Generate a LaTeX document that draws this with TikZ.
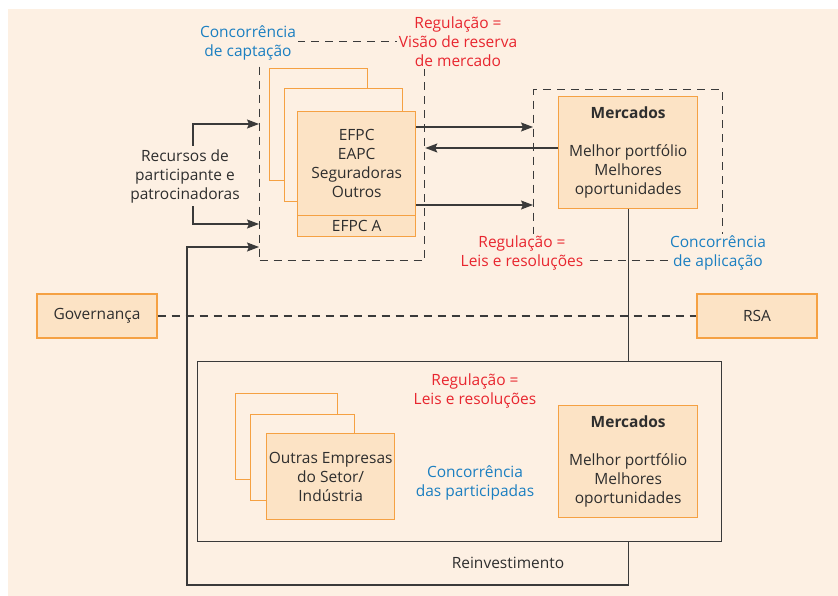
\documentclass[tikz,border=0pt]{standalone}
\usepackage{fontspec}
\setmainfont{Open Sans}
\usepackage{xcolor}
\usetikzlibrary{arrows.meta,positioning}

\definecolor{bgcream}{HTML}{FDF0E3}
\definecolor{orangeline}{HTML}{F5A143}
\definecolor{boxfill}{HTML}{FCE3C5}
\definecolor{redtxt}{HTML}{E8262F}
\definecolor{bluetxt}{HTML}{1B7FC1}
\definecolor{linegray}{HTML}{3A3A3A}
\definecolor{txtgray}{HTML}{2E2E2E}

\tikzset{
    every node/.style={font=\fontsize{15.5}{19}\selectfont, text=txtgray, align=center},
    backbox/.style={draw=orangeline, fill=bgcream, line width=1.4pt, anchor=north west},
    frontbox/.style={draw=orangeline, fill=boxfill, line width=1.4pt, anchor=north west, inner sep=0pt},
    dashbox/.style={draw=linegray, line width=1.3pt, dash pattern=on 8pt off 6pt, anchor=north west},
    lbl/.style={fill=bgcream, inner sep=2pt},
    arrow/.style={draw=linegray, line width=1.3pt, -{Stealth[length=12pt,width=9pt,inset=2pt]}},
    plain/.style={draw=linegray, line width=1.3pt}
}

\begin{document}
\begin{tikzpicture}[x=1pt, y=-1pt]
    % Background
    \useasboundingbox (0,0) rectangle (838,596);
    \fill[white] (0,0) rectangle (838,596);
    \fill[bgcream] (8,9) rectangle (838,596);

    % Dashed boxes
    \node[dashbox, minimum width=165, minimum height=219] (captacao) at (259,41) {};
    \node[dashbox, minimum width=189, minimum height=171] (aplicacao) at (533,89) {};

    % Governance line
    \node[frontbox, minimum width=120, minimum height=44, anchor=center] (gov) at (97,316) {Governança};
    \node[frontbox, minimum width=120, minimum height=44, anchor=center] (rsa) at (757,316) {RSA};
    \draw[draw=linegray, line width=1.3pt, dash pattern=on 8pt off 6pt] (gov.east) -- (rsa.west);

    % Stacked entities (top)
    \foreach \x/\y/\w/\h in {269/68/98/112, 284/88/118/113} {
        \node[backbox, minimum width=\w, minimum height=\h] at (\x,\y) {};
    }
    \node[frontbox, minimum width=118, minimum height=104] (efpc) at (297,111) {EFPC\\EAPC\\Seguradoras\\Outros};
    \node[frontbox, minimum width=118, minimum height=21] (efpca) at (297,215) {EFPC A};

    % Markets (top)
    \node[frontbox, minimum width=139, minimum height=112] (merc1) at (558,96)
        {\textbf{Mercados}\\[19pt]Melhor portfólio\\Melhores\\oportunidades};

    % Participations box
    \node[plain, minimum width=524, minimum height=180, anchor=north west] (partic) at (197,361) {};
    \foreach \x/\y/\w/\h in {235/393/102/86, 250/414/104/86} {
        \node[backbox, minimum width=\w, minimum height=\h] at (\x,\y) {};
    }
    \node[frontbox, minimum width=128, minimum height=86] (outras) at (266,433) {Outras Empresas\\do Setor/\\Indústria};
    \node[frontbox, minimum width=139, minimum height=112] (merc2) at (558,405)
        {\textbf{Mercados}\\[19pt]Melhor portfólio\\Melhores\\oportunidades};

    % Labels
    \node[lbl, text=bluetxt] (lcapt) at (248,43) {Concorrência\\de captação};
    \node[lbl, text=redtxt] (lres) at (458,42) {Regulação =\\Visão de reserva\\de mercado};
    \node[lbl, text=redtxt] (lleis) at (522,253) {Regulação =\\Leis e resoluções};
    \node[lbl, text=bluetxt] (lapl) at (718,253) {Concorrência\\de aplicação};
    \node[text=redtxt] (lleis2) at (475,391) {Regulação =\\Leis e resoluções};
    \node[text=bluetxt] (lpart) at (475,483) {Concorrência\\das participadas};
    \node (recursos) at (185,176) {Recursos de\\participante e\\patrocinadoras};
    \node (reinv) at (508,563) {Reinvestimento};

    % Arrows
    \draw[arrow] ([xshift=8pt]recursos.north) |- (captacao.west |- 0,124);
    \draw[arrow] ([xshift=8pt]recursos.south) |- (captacao.west |- 0,224);
    \draw[arrow] (efpc.east |- 0,127) -- (aplicacao.west |- 0,127);
    \draw[arrow] (merc1.west |- 0,148) -- (captacao.east |- 0,148);
    \draw[arrow] (efpc.east |- 0,205) -- (aplicacao.west |- 0,205);

    % Reinvestment loop
    \coordinate (loopcorner) at (187,585);
    \draw[plain] (merc1.south) -- (merc1.south |- partic.north);
    \draw[arrow] (partic.south -| merc1.south) |- (loopcorner) |- (captacao.west |- 0,247);
\end{tikzpicture}
\end{document}
